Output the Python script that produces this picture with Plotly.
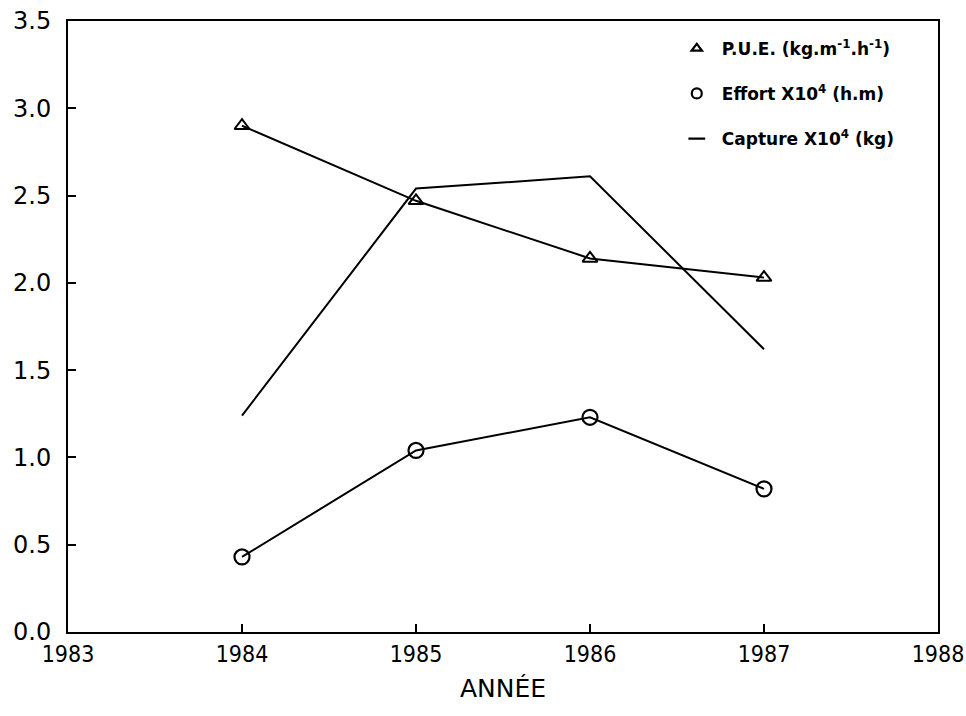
import plotly.graph_objects as go

years = [1984, 1985, 1986, 1987]
pue = [2.90, 2.47, 2.14, 2.03]
effort = [0.43, 1.04, 1.23, 0.82]
capture = [1.24, 2.54, 2.61, 1.62]

names = ["P.U.E. (kg.m<sup>-1</sup>.h<sup>-1</sup>)",
         "Effort X10<sup>4</sup> (h.m)",
         "Capture X10<sup>4</sup> (kg)"]

x_font = dict(family="DejaVu Sans Condensed, sans-serif", size=23, color="black")
y_font = dict(family="DejaVu Sans, sans-serif", size=24, color="black")

fig = go.Figure()

# data traces
fig.add_trace(go.Scatter(x=years, y=pue, mode="lines+markers", showlegend=False,
                         line=dict(color="black", width=2),
                         marker=dict(symbol="triangle-up-open", size=13, color="black", line=dict(width=2))))
fig.add_trace(go.Scatter(x=years, y=effort, mode="lines+markers", showlegend=False,
                         line=dict(color="black", width=2),
                         marker=dict(symbol="circle-open", size=15, color="black", line=dict(width=2.2))))
fig.add_trace(go.Scatter(x=years, y=capture, mode="lines", showlegend=False,
                         line=dict(color="black", width=2)))

# legend key: symbols only, like the original
symbols = ["triangle-up-open", "circle-open", "line-ew-open"]
sizes = [9, 10, 12]
for i, (nm, sym, sz) in enumerate(zip(names, symbols, sizes)):
    fig.add_trace(go.Scatter(x=[None], y=[None], mode="markers", name=nm, legendgroup=str(i),
                             marker=dict(symbol=sym, size=sz, color="black", line=dict(width=2.2, color="black"))))

fig.update_layout(
    width=966, height=716,
    margin=dict(l=68, r=28, t=21, b=84),
    paper_bgcolor="white", plot_bgcolor="white",
    legend=dict(x=0.694, y=0.984, xanchor="left", yanchor="top",
                font=dict(family="DejaVu Sans, sans-serif", size=17, color="black", weight="bold"),
                tracegroupgap=20, itemwidth=40, bgcolor="rgba(0,0,0,0)"),
)
fig.update_xaxes(range=[1983, 1988], tickvals=[1983, 1984, 1985, 1986, 1987, 1988],
                 showgrid=False, zeroline=False, showline=True, linecolor="black", linewidth=2,
                 mirror=True, ticks="inside", ticklen=8, tickwidth=1.5, tickcolor="black",
                 tickfont=x_font, automargin=False,
                 title=dict(text="ANNÉE", font=dict(family="DejaVu Sans, sans-serif", size=25, color="black"),
                            standoff=14))
fig.update_yaxes(range=[0, 3.5], tickvals=[0, 0.5, 1, 1.5, 2, 2.5, 3, 3.5], tickformat=".1f",
                 showgrid=False, zeroline=False, showline=True, linecolor="black", linewidth=2,
                 mirror=True, ticks="inside", ticklen=8, tickwidth=1.5, tickcolor="black",
                 tickfont=y_font, ticklabelstandoff=10, automargin=False)

fig.write_html("out.html", config={"displayModeBar": False},
               post_script="document.body.style.margin='0px';")
